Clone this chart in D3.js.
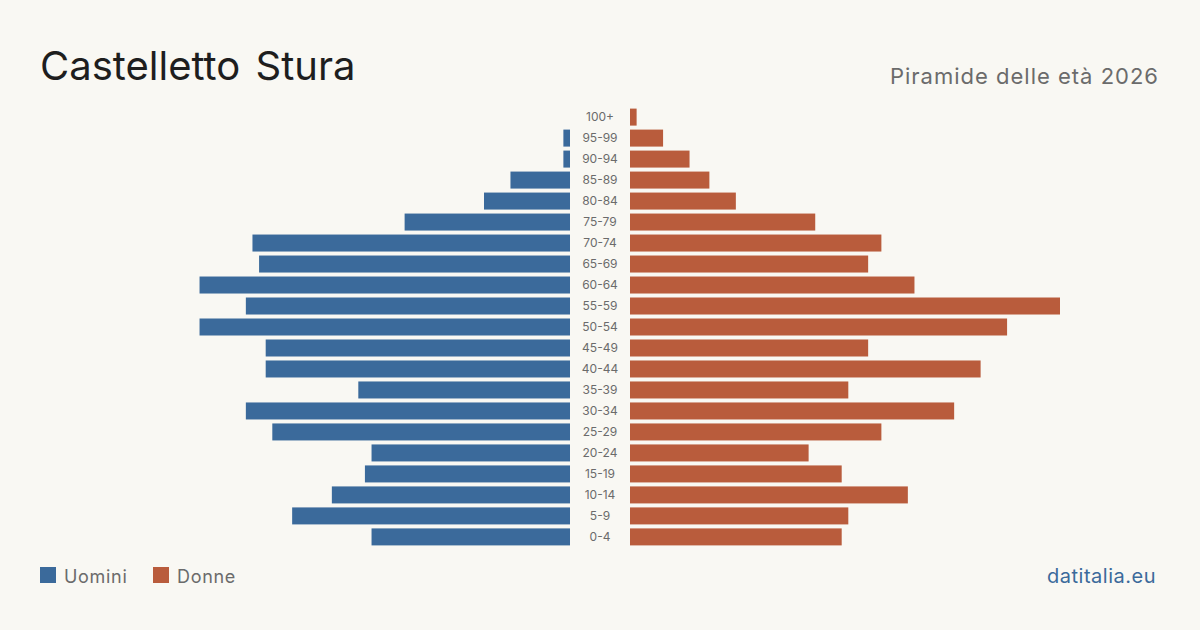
<!DOCTYPE html>
<html><head><meta charset="utf-8">
<script src="https://cdn.jsdelivr.net/npm/d3@7"></script>
<style>
html,body{margin:0;padding:0;background:#f9f8f3;}
svg{display:block;font-family:Inter,"Noto Sans",sans-serif;}
</style></head>
<body>
<svg id="c" width="1200" height="630"></svg>
<script>
const ageGroups = ["100+","95-99","90-94","85-89","80-84","75-79","70-74","65-69","60-64","55-59","50-54","45-49","40-44","35-39","30-34","25-29","20-24","15-19","10-14","5-9","0-4"];
const men   = [0,1,1,9,13,25,48,47,56,49,56,46,46,32,49,45,30,31,36,42,30];
const women = [1,5,9,12,16,28,38,36,43,65,57,36,53,33,49,38,27,32,42,33,32];
const legendLabels = ["Uomini","Donne"];
const colors = {men:"#3b6a9b", women:"#b95c3c"};

const svg = d3.select("#c");
svg.append("rect").attr("width",1200).attr("height",630).attr("fill","#f9f8f3");

svg.append("text").attr("x",40).attr("y",80).attr("font-size",40).attr("fill","#1e1e1e")
  .attr("word-spacing","4").text("Castelletto Stura");
svg.append("text").attr("x",1159).attr("y",84).attr("text-anchor","end").attr("font-size",22)
  .attr("letter-spacing","1").attr("fill","#6b6b6b").text("Piramide delle età 2026");

const y = d3.scaleBand().domain(ageGroups).range([106.5, 547.5]).paddingInner(0.19).paddingOuter(0.1);
const xL = d3.scaleLinear().domain([0,65]).range([570, 140]);
const xR = d3.scaleLinear().domain([0,65]).range([630, 1060]);

svg.append("g").selectAll("rect").data(ageGroups).join("rect")
  .attr("x",(d,i)=>xL(men[i])).attr("y",d=>y(d))
  .attr("width",(d,i)=>xL(0)-xL(men[i])).attr("height",y.bandwidth())
  .attr("fill",colors.men);
svg.append("g").selectAll("rect").data(ageGroups).join("rect")
  .attr("x",xR(0)).attr("y",d=>y(d))
  .attr("width",(d,i)=>xR(women[i])-xR(0)).attr("height",y.bandwidth())
  .attr("fill",colors.women);

svg.append("g").selectAll("text").data(ageGroups).join("text")
  .attr("x",600).attr("y",d=>y(d)+y.bandwidth()/2).attr("dy","0.35em")
  .attr("text-anchor","middle").attr("font-size",12).attr("fill","#6b6b6b").text(d=>d);

// legend
const lg = svg.append("g");
[[40,colors.men,legendLabels[0]],[153,colors.women,legendLabels[1]]].forEach(([x,c,t])=>{
  lg.append("rect").attr("x",x).attr("y",567).attr("width",16).attr("height",16).attr("fill",c);
  lg.append("text").attr("x",x+24).attr("y",583).attr("font-size",18).attr("letter-spacing","0.7")
    .attr("fill","#6b6b6b").text(t);
});
svg.append("text").attr("x",1156).attr("y",583).attr("text-anchor","end").attr("font-size",20)
  .attr("letter-spacing","0.5").attr("fill","#3b6a9b").text("datitalia.eu");
</script>
</body></html>
